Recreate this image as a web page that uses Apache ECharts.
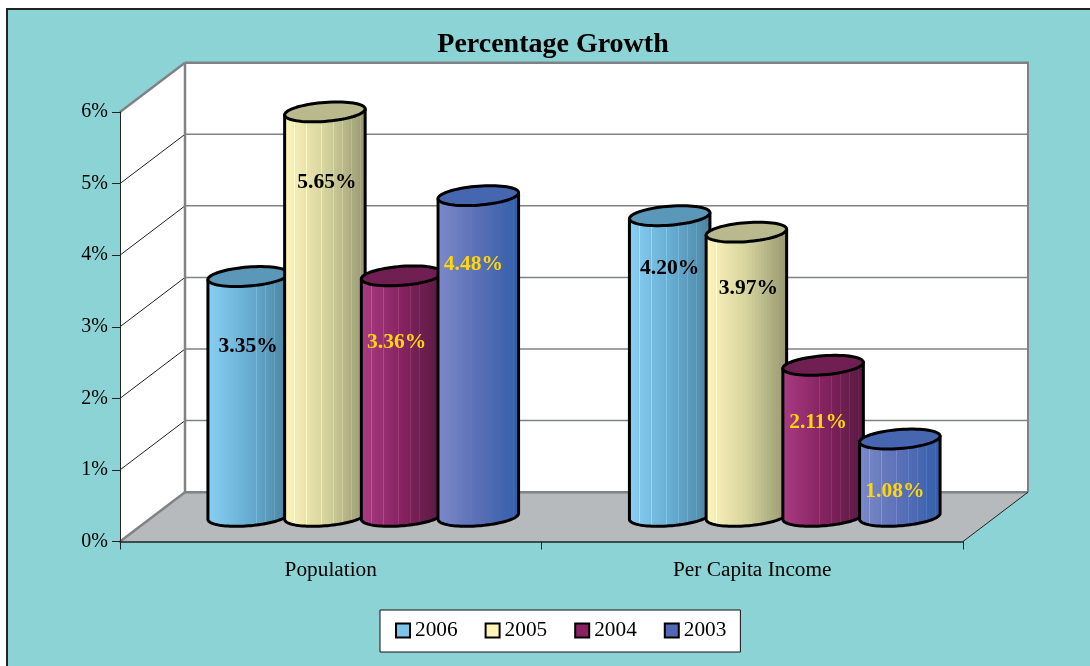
<!DOCTYPE html>
<html><head><meta charset="utf-8">
<style>html,body{margin:0;padding:0;background:#fff}#c{width:1090px;height:666px}</style>
<script src="https://cdn.jsdelivr.net/npm/echarts@6/dist/echarts.min.js"></script>
</head><body><div id="c"></div>
<script>
const categories = ['Population', 'Per Capita Income'];
const years = ['2006', '2005', '2004', '2003'];
const v2006 = [3.35, 4.20];
const v2005 = [5.65, 3.97];
const v2004 = [3.36, 2.11];
const v2003 = [4.48, 1.08];
const tickLabels = [0, 1, 2, 3, 4, 5, 6];
const values = [v2006, v2005, v2004, v2003];

const FONT = '"Liberation Serif","Times New Roman",serif';
const DX = 65, DY = -49.3;
const shades = [
  {l:'#8AD0F4', m:'#68AED3', r:'#4C84A0', top:'#5B97B8', label:'#000', key:'#7CC4EA'},
  {l:'#FFF5BC', m:'#D6D49E', r:'#989872', top:'#B9B98D', label:'#000', key:'#FFF3B8'},
  {l:'#A93C82', m:'#862260', r:'#571A42', top:'#6F1F51', label:'#FFD60A', key:'#8A2262'},
  {l:'#7C89C9', m:'#5A70B6', r:'#335FAA', top:'#4666AF', label:'#FFD60A', key:'#5168B4'}
];
const labelDrop = [[70,53],[71,56],[67,57],[69,52]];
const labelShift = [0, 2, -5, -5];
const streaks = [1,0,0,1,0,0,0,1,0,0,0,0,1,0,0,0,1,0,0,1,0,0,1,0,0,1,0,0];

function hex(c){return [1,3,5].map(i=>parseInt(c.substr(i,2),16));}
function mix(a,b,t){const A=hex(a),B=hex(b);return A.map((v,i)=>Math.round(v+(B[i]-v)*t));}
function rgb(c){return 'rgb('+c.map(Math.round).join(',')+')';}
function gradient(s){
  const stops=[],n=streaks.length;
  for(let i=0;i<n;i++){
    const t=i/(n-1);
    const c=t<.5?mix(s.l,s.m,t*2):mix(s.m,s.r,(t-.5)*2);
    const base=rgb(c);
    const lit=streaks[i]?rgb(c.map(v=>Math.min(255,v+(1-t)*20+10))):base;
    stops.push({offset:i/n,color:base},{offset:(i+.78)/n,color:base},
               {offset:(i+.78)/n,color:lit},{offset:(i+1)/n,color:lit});
  }
  return {type:'linear',x:0,y:0,x2:1,y2:0,colorStops:stops};
}
function arc(cx,cy,a,b,s,from,to,steps){
  const p=[];
  for(let i=0;i<=steps;i++){
    const t=from+(to-from)*i/steps;
    p.push([cx+a*Math.cos(t),cy+b*Math.sin(t)-s*Math.cos(t)]);
  }
  return p;
}
function renderCylinder(idx){
  return function(params,api){
    const cat=api.value(0),val=api.value(1);
    const top=api.coord([cat,val]),base=api.coord([cat,0]);
    const band=api.size([1,0])[0];
    const cx=top[0]+DX/2+(idx-1.5)*band*0.182;
    const yBase=base[1]+DY/2-.5,yTop=top[1]+DY/2-.5;
    const a=band*0.0955,b=9.5,s=3;
    const stroke={stroke:'#000',lineWidth:3,lineJoin:'round'};
    const lower=arc(cx,yBase,a,b,s,Math.PI,0,48);
    const body=[[cx-a,yTop+s]].concat(lower).concat([[cx+a,yTop-s]]);
    return {type:'group',children:[
      {type:'polygon',shape:{points:body},style:Object.assign({fill:gradient(shades[idx])},stroke)},
      {type:'polygon',shape:{points:arc(cx,yTop,a,b,s,0,Math.PI*2,72)},style:Object.assign({fill:shades[idx].top},stroke)},
      {type:'text',style:{text:val.toFixed(2)+'%',x:cx+labelShift[idx],y:yTop+labelDrop[idx][cat],
        fill:shades[idx].label,font:'bold 21.5px '+FONT,align:'center',verticalAlign:'middle'}}
    ]};
  };
}
function renderWalls(params,api){
  const gray='#808285';
  const o=api.coord([0,0]),t=api.coord([0,6]);
  const band=api.size([1,0])[0];
  const x0=o[0]-band/2,x1=x0+band*2,yB=o[1],yT=t[1];
  const line=(a,b,c,w)=>({type:'line',shape:{x1:a[0],y1:a[1],x2:b[0],y2:b[1]},style:{stroke:c,lineWidth:w}});
  const ch=[
    {type:'polygon',shape:{points:[[x0+DX,yT+DY],[x1+DX,yT+DY],[x1+DX,yB+DY],[x0+DX,yB+DY]]},style:{fill:'#fff'}},
    {type:'polygon',shape:{points:[[x0,yT],[x0+DX,yT+DY],[x0+DX,yB+DY],[x0,yB]]},style:{fill:'#fff'}},
    {type:'polygon',shape:{points:[[x0,yB],[x1,yB],[x1+DX,yB+DY],[x0+DX,yB+DY]]},style:{fill:'#B6BABD'}}
  ];
  tickLabels.slice(1,-1).forEach(v=>{
    const y=api.coord([0,v])[1];
    ch.push(line([x0+DX,y+DY],[x1+DX,y+DY],gray,1.5));
    ch.push(line([x0,y],[x0+DX,y+DY],'#222',1));
  });
  ch.push(line([x0+DX,yT+DY],[x1+DX+1,yT+DY],gray,2.5));
  ch.push(line([x0+DX,yT+DY],[x0+DX,yB+DY],gray,2.5));
  ch.push(line([x1+DX,yT+DY],[x1+DX,yB+DY],gray,2));
  ch.push(line([x0+DX,yB+DY],[x1+DX,yB+DY],gray,2.5));
  ch.push(line([x0,yT],[x0+DX,yT+DY],gray,2.5));
  ch.push(line([x0,yB],[x0+DX,yB+DY],gray,2.5));
  ch.push(line([x1,yB],[x1+DX,yB+DY],'#222',1));
  return {type:'group',children:ch};
}
const series=[{type:'custom',name:'walls',silent:true,clip:false,z:1,data:[[0,0]],renderItem:renderWalls,encode:{x:0,y:1}}];
years.forEach((y,i)=>series.push({
  type:'custom',name:y,clip:false,z:3+i,
  itemStyle:{color:shades[i].key},
  data:categories.map((c,k)=>[k,values[i][k]]),
  encode:{x:0,y:1},renderItem:renderCylinder(i)
}));
const chart=echarts.init(document.getElementById('c'),null,{renderer:'canvas'});
chart.setOption({
  animation:false,
  backgroundColor:'#fff',
  title:{text:'Percentage Growth',left:548,top:26,textAlign:'center',
    textStyle:{fontFamily:FONT,fontSize:28,fontWeight:'bold',color:'#000'}},
  graphic:[{type:'rect',z:-10,shape:{x:7,y:9,width:1200,height:800},style:{fill:'#8BD3D5',stroke:'#222',lineWidth:2}}],
  grid:{left:120,top:112,width:843,height:429.5,containLabel:false},
  xAxis:{type:'category',data:categories,z:6,
    axisLine:{lineStyle:{color:'#222',width:1.5}},
    axisTick:{show:true,alignWithLabel:false,length:8,lineStyle:{color:'#222',width:1}},
    axisLabel:{fontFamily:FONT,fontSize:21.3,color:'#000',margin:18},
    splitLine:{show:false}},
  yAxis:{type:'value',min:0,max:6,interval:1,z:6,
    axisLine:{show:true,lineStyle:{color:'#222',width:1}},
    axisTick:{show:true,length:8,lineStyle:{color:'#222',width:1}},
    axisLabel:{fontFamily:FONT,fontSize:20,color:'#000',margin:12,formatter:'{value}%'},
    splitLine:{show:false}},
  legend:{data:years.map(y=>({name:y,icon:'rect',itemStyle:{borderColor:'#000',borderWidth:2}})),
    left:380,top:610,orient:'horizontal',itemWidth:14,itemHeight:14,itemGap:27,
    padding:[10,14,11,15],backgroundColor:'#fff',borderColor:'#111',borderWidth:1,
    itemStyle:{borderColor:'#000',borderWidth:2},
    textStyle:{fontFamily:FONT,fontSize:21.3,color:'#000',padding:[0,0,0,0]},selectedMode:false},
  tooltip:{show:false},
  series:series
});
</script></body></html>
